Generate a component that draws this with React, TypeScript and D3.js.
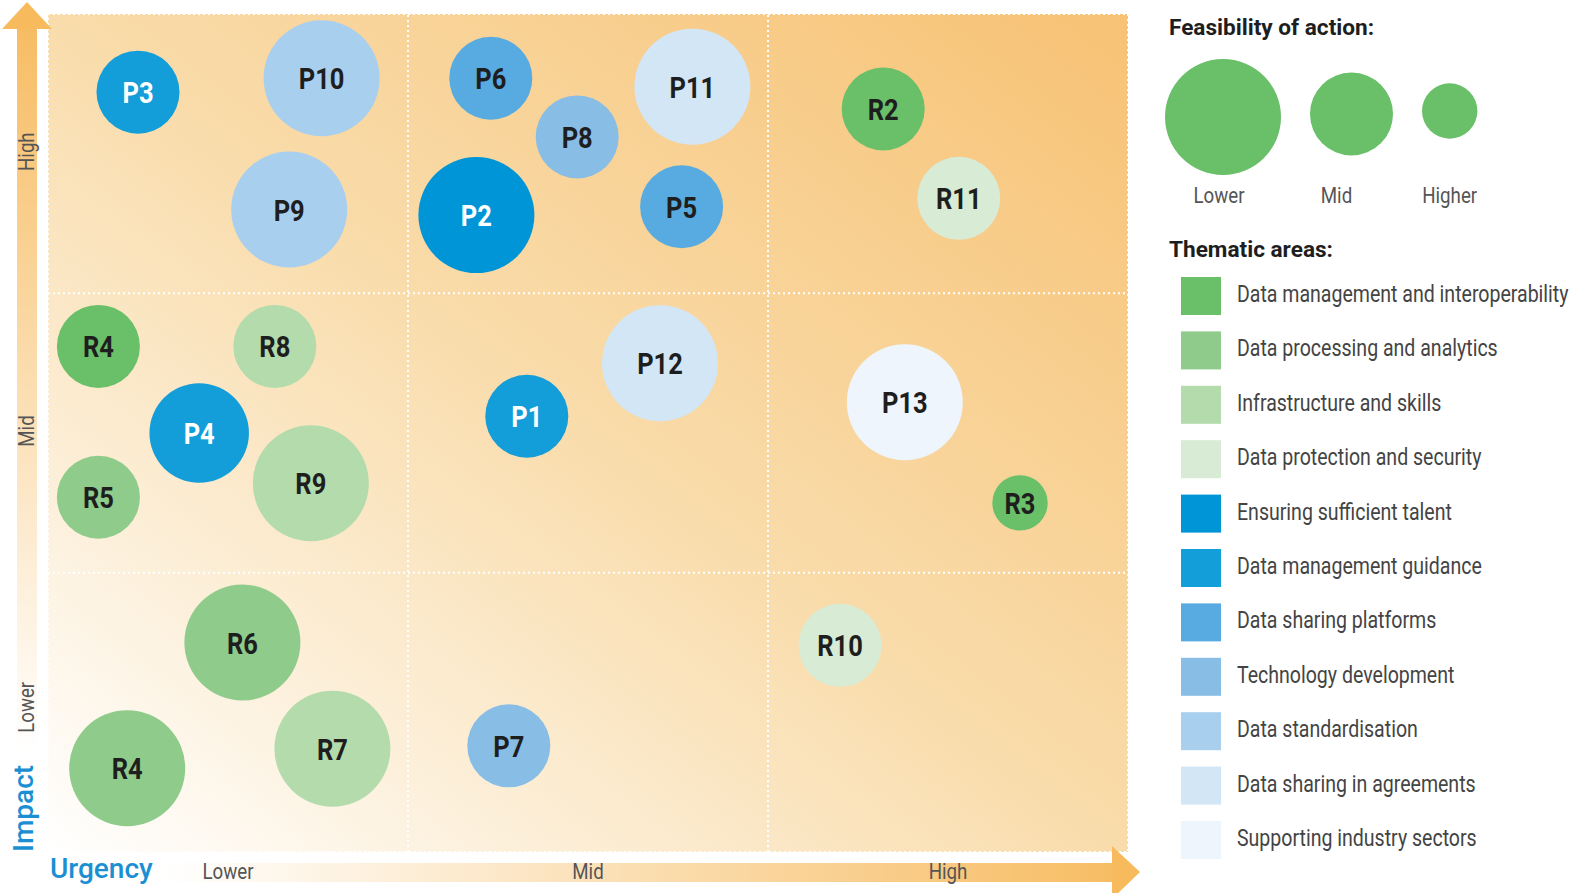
import React from 'react';
import * as d3 from 'd3';

// thematic areas (legend order) and their colours
const areaNames = [
  'Data management and interoperability',
  'Data processing and analytics',
  'Infrastructure and skills',
  'Data protection and security',
  'Ensuring sufficient talent',
  'Data management guidance',
  'Data sharing platforms',
  'Technology development',
  'Data standardisation',
  'Data sharing in agreements',
  'Supporting industry sectors',
];
const areaColors = [
  '#6abf69', '#8fcb8a', '#b3dbab', '#d8ebd5',
  '#0095d6', '#139dd9', '#58abe0', '#88bde6',
  '#a9cfee', '#d2e6f6', '#eef5fd',
];

// bubbles: urgency (0-3), impact (0-3), feasibility (1 lower .. 3 higher), area index
const bubbleIds = ['P3', 'P10', 'P6', 'P11', 'P8', 'P2', 'P5', 'P9', 'R2', 'R11', 'R4', 'R8', 'P4', 'R5', 'R9', 'P1', 'P12', 'P13', 'R3', 'R6', 'R7', 'R4', 'R10', 'P7'];
const urgency = [0.25, 0.76, 1.23, 1.79, 1.47, 1.19, 1.76, 0.67, 2.32, 2.53, 0.14, 0.63, 0.42, 0.14, 0.73, 1.33, 1.70, 2.38, 2.70, 0.54, 0.79, 0.22, 2.20, 1.28];
const impact = [2.72, 2.77, 2.77, 2.74, 2.56, 2.28, 2.31, 2.30, 2.66, 2.34, 1.81, 1.81, 1.50, 1.27, 1.32, 1.56, 1.75, 1.61, 1.25, 0.75, 0.37, 0.30, 0.74, 0.38];
const feasibility = [2, 1, 2, 1, 2, 1, 2, 1, 2, 2, 2, 2, 1.5, 2, 1, 2, 1, 1, 3, 1, 1, 1, 2, 2];
const bubbleArea = [5, 8, 6, 9, 7, 4, 6, 8, 0, 3, 0, 2, 5, 1, 2, 5, 9, 10, 0, 1, 2, 1, 3, 7];
const whiteLabel = ['P1', 'P2', 'P3', 'P4'];

const levelLabels = ['Lower', 'Mid', 'High'];
const feasLevels = [1, 2, 3];
const feasLabels = ['Lower', 'Mid', 'Higher'];

const W = 1575;
const H = 893;
const FONT = 'Roboto, "Noto Sans", sans-serif';
const SX = 0.85; // fake a condensed face

function CText(props: any) {
  const { x, y, sx = SX, rotate = 0, children, ...rest } = props;
  return (
    <text transform={`translate(${x},${y}) rotate(${rotate}) scale(${sx},1)`} fontFamily={FONT} {...rest}>
      {children}
    </text>
  );
}

export default function App() {
  const x = d3.scaleLinear().domain([0, 3]).range([48, 1128]);
  const y = d3.scaleLinear().domain([0, 3]).range([852, 14]);
  const r = d3.scaleLinear().domain([1, 2, 3]).range([58, 41.5, 27.7]);
  const legendY = d3.scaleBand<number>().domain(d3.range(areaNames.length)).range([277, 277 + 54.4 * areaNames.length]);

  // feasibility legend circle centres, laid out edge to edge with a gap
  const feasX: number[] = [];
  let cursor = 1165;
  feasLevels.forEach((f) => {
    feasX.push(cursor + r(f));
    cursor += 2 * r(f) + 29;
  });

  const grid = [1, 2];
  const dotted = { stroke: '#fff', strokeWidth: 2, strokeDasharray: '2 3' };
  const yLabelShift = [-5, -2, -2];

  return (
    <svg width={W} height={H} style={{ position: 'absolute', left: 0, top: 0 }}>
      <defs>
        <linearGradient id="bg" x1="0" y1="1" x2="1" y2="0">
          <stop offset="0" stopColor="#ffffff" />
          <stop offset="0.5" stopColor="#f9dcab" />
          <stop offset="1" stopColor="#f7c274" />
        </linearGradient>
        <linearGradient id="vbar" x1="0" y1="0" x2="0" y2="1">
          <stop offset="0" stopColor="#f7bd64" />
          <stop offset="1" stopColor="#ffffff" />
        </linearGradient>
        <linearGradient id="hbar" x1="0" y1="0" x2="1" y2="0">
          <stop offset="0" stopColor="#ffffff" />
          <stop offset="1" stopColor="#f7bd64" />
        </linearGradient>
      </defs>

      {/* plot background */}
      <rect x={x(0)} y={y(3)} width={x(3) - x(0)} height={y(0) - y(3)} fill="url(#bg)" />
      {grid.map((g) => (
        <g key={g}>
          <line x1={x(g)} x2={x(g)} y1={y(0)} y2={y(3)} {...dotted} />
          <line x1={x(0)} x2={x(3)} y1={y(g)} y2={y(g)} {...dotted} />
        </g>
      ))}
      <rect x={x(0)} y={y(3)} width={x(3) - x(0)} height={y(0) - y(3)} fill="none" {...dotted} />

      {/* axes arrows */}
      <rect x={17} y={29} width={20} height={725} fill="url(#vbar)" />
      <polygon points="2,29 52,29 27,2" fill="#f7bb5e" />
      <rect x={162} y={863} width={952} height={19} fill="url(#hbar)" />
      <polygon points="1112,846 1112,899 1140,872" fill="#f7bb5e" />

      {levelLabels.map((l, i) => (
        <CText key={'x' + l} x={x(i + 0.5)} y={879} textAnchor="middle" fontSize={22} fill="#555">
          {l}
        </CText>
      ))}
      {levelLabels.map((l, i) => (
        <CText key={'y' + l} x={34} y={y(i + 0.5) + yLabelShift[i]} rotate={-90} textAnchor="middle" fontSize={22} fill="#555">
          {l}
        </CText>
      ))}
      <text x={50} y={878} fontFamily={FONT} fontSize={28} fontWeight={500} fill="#1b8fd2">
        Urgency
      </text>
      <text transform="translate(33,852) rotate(-90)" fontFamily={FONT} fontSize={28} fontWeight={500} fill="#1b8fd2">
        Impact
      </text>

      {/* bubbles */}
      {bubbleIds.map((id, i) => (
        <g key={i}>
          <circle cx={x(urgency[i])} cy={y(impact[i])} r={r(feasibility[i])} fill={areaColors[bubbleArea[i]]} />
          <CText x={x(urgency[i])} y={y(impact[i]) + 11} textAnchor="middle" fontSize={30} fontWeight={700} fill={whiteLabel.includes(id) ? '#fff' : '#1e1e1e'}>
            {id}
          </CText>
        </g>
      ))}

      {/* feasibility legend */}
      <CText x={1169} y={35} sx={1} fontSize={22.6} fontWeight={700} fill="#1e1e1e">
        Feasibility of action:
      </CText>
      {feasLevels.map((f, i) => (
        <g key={f}>
          <circle cx={feasX[i]} cy={114 + (2 - f) * 3} r={r(f)} fill="#6abf69" />
          <CText x={feasX[i] - (i === 0 ? 4 : i === 1 ? 15 : 0)} y={203} textAnchor="middle" fontSize={22} fill="#555">
            {feasLabels[i]}
          </CText>
        </g>
      ))}

      {/* thematic legend */}
      <CText x={1169} y={257} sx={1} fontSize={22.6} fontWeight={700} fill="#1e1e1e">
        Thematic areas:
      </CText>
      {areaNames.map((a, i) => (
        <g key={a}>
          <rect x={1181} y={legendY(i)} width={40} height={38} fill={areaColors[i]} />
          <CText x={1237} y={(legendY(i) as number) + 25} fontSize={23} fill="#444">
            {a}
          </CText>
        </g>
      ))}
    </svg>
  );
}
